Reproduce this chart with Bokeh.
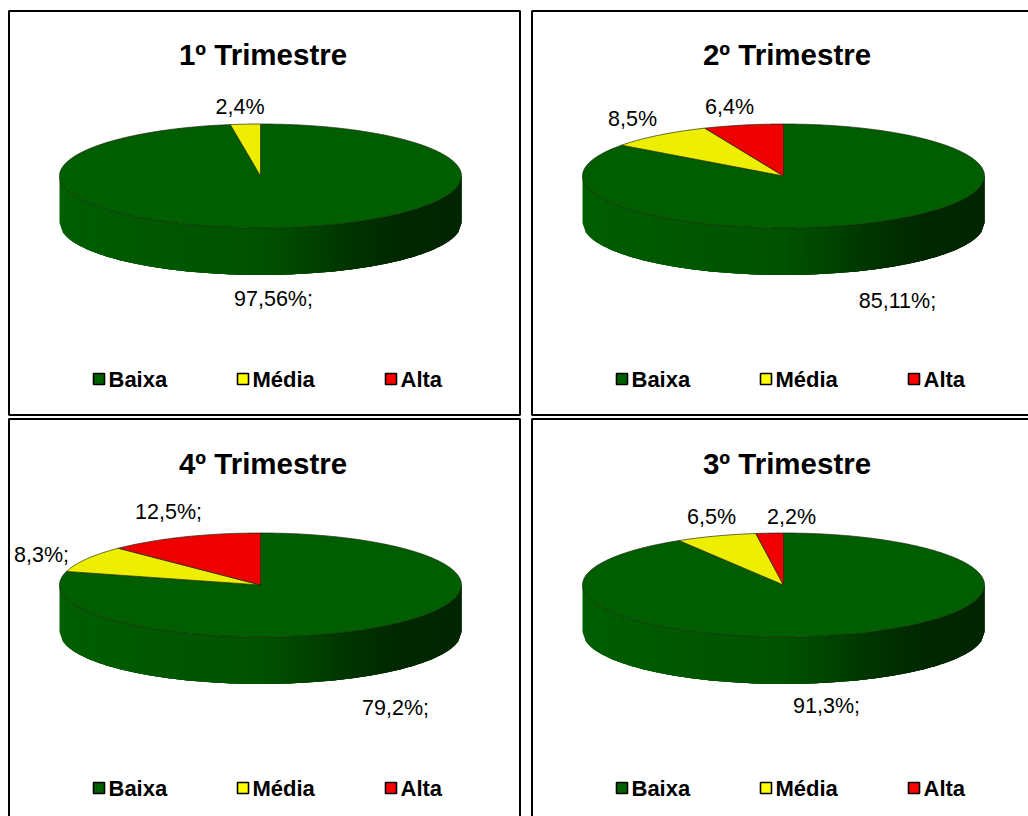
import numpy as np
from bokeh.core.properties import value
from bokeh.embed import file_html
from bokeh.models import Range1d
from bokeh.plotting import figure
from bokeh.resources import INLINE

# Share of occurrences per quarter, in percent
categories = ["Baixa", "Média", "Alta"]
titles = ["1º Trimestre", "2º Trimestre", "4º Trimestre", "3º Trimestre"]
baixa = [97.56, 85.11, 79.2, 91.3]
media = [2.4, 8.5, 8.3, 6.5]
alta = [0.0, 6.4, 12.5, 2.2]
baixa_labels = ["97,56%;", "85,11%;", "79,2%;", "91,3%;"]
media_labels = ["2,4%", "8,5%", "8,3%;", "6,5%"]
alta_labels = ["", "6,4%", "12,5%;", "2,2%"]

# Panel layout: frame (left, top, right, bottom) and pie centre
frames = [(8.5, 10.5, 519.5, 414.5), (531.5, 10.5, 1045, 414.5),
          (8.5, 418.5, 519.5, 840), (531.5, 418.5, 1045, 840)]
centers = [(260, 175.5), (783, 175.5), (260, 584.5), (783, 584.5)]
title_pos = [(262.5, 54), (786.5, 54), (262.5, 463), (786.5, 463)]
baixa_pos = [(273, 298), (897, 300), (395, 707), (826, 705)]
media_pos = [(239.5, 106), (632, 118), (41, 554), (711, 516)]
alta_pos = [(0, 0), (729, 106), (168, 511), (791, 516)]
legend_swatch_dx = [-167, -23, 125]
legend_text_dx = [-152, -8, 140]
legend_dy = 203

RX, RY, DEPTH = 201, 52, 47
TOP_COLORS = ["#005e00", "#eeee00", "#ee0000"]
LEGEND_COLORS = ["#006000", "#ffff00", "#ff0000"]
FONT = value("Liberation Sans")

p = figure(width=1028, height=816, x_range=Range1d(0, 1028), y_range=Range1d(816, 0),
           output_backend="svg", toolbar_location=None, min_border=0)
p.axis.visible = False
p.grid.visible = False
p.outline_line_color = None
p.background_fill_color = "white"


def side_color(t):
    g = np.interp(t, [0, 0.5, 0.62, 0.75, 0.85, 1], [94, 82, 66, 48, 40, 38])
    return "#00%02x00" % int(g)


def slice_shape(cx, cy, start, end):
    a = np.radians(np.linspace(start, end, max(int(abs(end - start)) * 2, 2) + 1))
    xs = np.r_[cx, cx + RX * np.sin(a)]
    ys = np.r_[cy, cy - RY * np.cos(a)]
    return xs.tolist(), ys.tolist()


def draw_pie(cx, cy, values):
    # Extruded wall, shaded left to right; strips overlap their neighbours to hide seams
    edges = np.linspace(-RX, RX, 121)
    wall_x, wall_y, wall_c = [], [], []
    for k in range(len(edges) - 1):
        seg = edges[k:k + 4]
        curve = cy + RY * np.sqrt(np.clip(1 - (seg / RX) ** 2, 0, None))
        wall_x.append((cx + np.r_[seg, seg[::-1]]).tolist())
        wall_y.append(np.r_[curve, curve[::-1] + DEPTH].tolist())
        wall_c.append(side_color((edges[k] + RX) / (2 * RX)))
    p.patches(wall_x, wall_y, fill_color=wall_c, line_color=None)

    # Top face: slices run clockwise from twelve o'clock
    total = sum(values)
    start = 0.0
    for v, color in zip(values, TOP_COLORS):
        end = start + 360.0 * v / total
        if v > 0:
            xs, ys = slice_shape(cx, cy, start, end)
            p.patch(xs, ys, fill_color=color, line_color="#1c2a10", line_width=0.7)
        start = end


for i in range(4):
    left, top, right, bottom = frames[i]
    p.quad(left=left, right=right, top=top, bottom=bottom, fill_color="white",
           line_color="black", line_width=2)
    cx, cy = centers[i]
    draw_pie(cx, cy, [baixa[i], media[i], alta[i]])

    tx, ty = title_pos[i]
    p.text([tx], [ty], text=[titles[i]], text_font=FONT, text_font_style="bold",
           text_font_size="29.5px", text_align="center", text_baseline="middle", text_color="black")

    labels = [baixa_labels[i], media_labels[i], alta_labels[i]]
    spots = [baixa_pos[i], media_pos[i], alta_pos[i]]
    for label, (lx, ly) in zip(labels, spots):
        if label:
            p.text([lx], [ly], text=[label], text_font=FONT, text_font_size="21.5px",
                   text_align="center", text_baseline="middle", text_color="black")

    ly = cy + legend_dy
    for name, color, sdx, tdx in zip(categories, LEGEND_COLORS, legend_swatch_dx, legend_text_dx):
        p.quad(left=cx + sdx, right=cx + sdx + 11, top=ly - 5.5, bottom=ly + 5.5,
               fill_color=color, line_color="black", line_width=1.6)
        p.text([cx + tdx], [ly], text=[name], text_font=FONT, text_font_style="bold",
               text_font_size="22px", text_align="left", text_baseline="middle", text_color="black")

open("out.html", "w").write(file_html(p, INLINE))
